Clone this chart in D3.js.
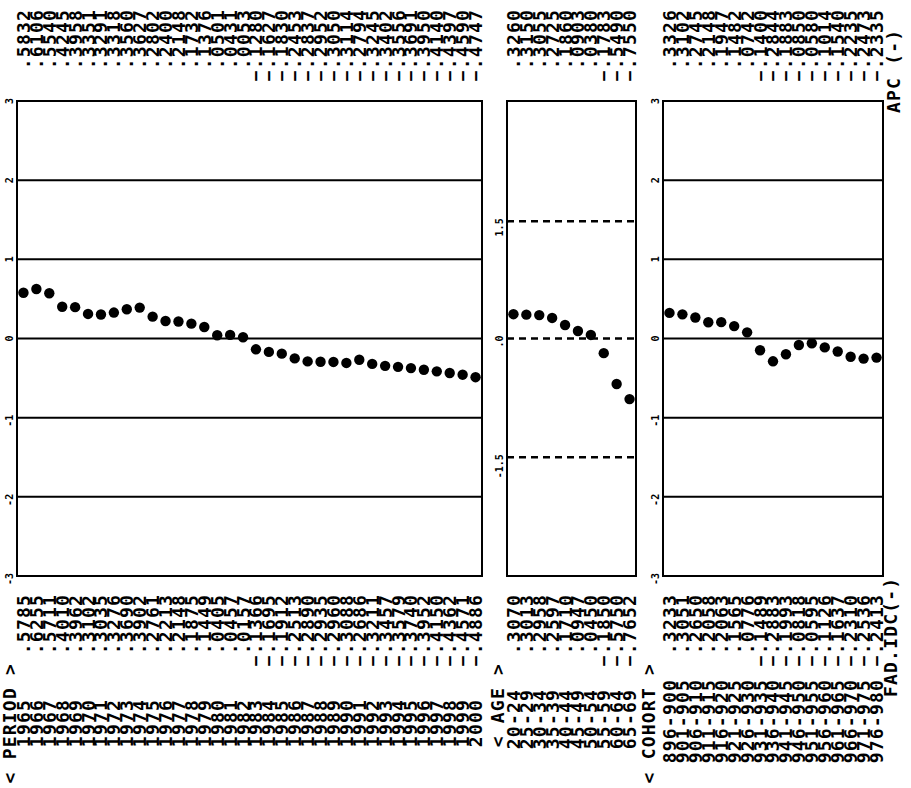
<!DOCTYPE html>
<html>
<head>
<meta charset="utf-8">
<script src="https://cdn.jsdelivr.net/npm/d3@7/dist/d3.min.js"></script>
<style>
    body { margin: 0; background: #fff; }
    text { font-family: "DejaVu Sans Mono", "Liberation Mono", monospace; font-weight: bold; fill: #000; }
</style>
</head>
<body>
<div id="chart"></div>
<script>
// period effects (1965-2000)
const periodYears = ["1965","1966","1967","1968","1969","1970","1971","1972","1973","1974","1975","1976",
    "1977","1978","1979","1980","1981","1982","1983","1984","1985","1986","1987","1988",
    "1989","1990","1991","1992","1993","1994","1995","1996","1997","1998","1999","2000"];
const periodEst = [.5785, .6255, .5711, .4010, .3962, .3102, .3035, .3276, .3690, .3902, .2761, .2213,
    .2148, .1875, .1449, .0405, .0457, .0157, -.1366, -.1695, -.1912, -.2513, -.2890, -.2935,
    -.2960, -.3088, -.2686, -.3211, -.3457, -.3579, -.3740, -.3952, -.4150, -.4362, -.4571, -.4886];
const periodTop = [.5832, .6106, .5540, .4245, .3958, .3351, .3291, .3318, .3560, .3627, .2802, .2400,
    .2148, .1732, .1376, .0501, .0431, .0053, -.1280, -.1627, -.1830, -.2453, -.2837, -.2952,
    -.3050, -.3114, -.2794, -.3245, -.3402, -.3556, -.3691, -.3950, -.4140, -.4397, -.4590, -.4747];

// age effects
const ageGroups = ["20-24","25-29","30-34","35-39","40-44","45-49","50-54","55-59","60-64","65-69"];
const ageEst = [.3070, .3013, .2958, .2597, .1710, .0947, .0450, -.1850, -.5750, -.7652];
const ageTop = [.3260, .3150, .3055, .2725, .1860, .0903, .0380, -.1783, -.5490, -.7550];
const ageRefLines = [1.48, 0, -1.5];
const ageRefLabels = ["1.5", ".0", "-1.5"];

// cohort effects
const cohorts = ["896-900","901-905","906-910","911-915","916-920","921-925","926-930","931-935","936-940",
    "941-945","946-950","951-955","956-960","961-965","966-970","971-975","976-980"];
const cohortEst = [.3233, .3051, .2650, .2058, .2063, .1565, .0776, -.1489, -.2883, -.1993, -.0818, -.0595,
    -.1126, -.1637, -.2310, -.2536, -.2413];
const cohortTop = [.3326, .3102, .2745, .2148, .1947, .1482, .0742, -.1400, -.2844, -.1883, -.0850, -.0580,
    -.1014, -.1540, -.2235, -.2473, -.2335];

const yTicks = [3, 2, 1, 0, -1, -2, -3];
const gridValues = [2, 1, 0, -1, -2];

const W = 911, H = 788;

const svg = d3.select("#chart").append("svg")
    .attr("width", W)
    .attr("height", H);

svg.append("rect").attr("width", W).attr("height", H).attr("fill", "#fff");

// shared value scale (rotated page: +3 at the top)
const y = d3.scaleLinear().domain([-3, 3]).range([576, 101]);

const fmt = v => d3.format(".4f")(v).replace("0.", ".");

// vertical (rotated) text, reading bottom to top
function vtext(x, yy, str, anchor, size) {
    return svg.append("text")
        .attr("transform", `translate(${x},${yy}) rotate(-90)`)
        .attr("text-anchor", anchor)
        .attr("dy", "0.36em")
        .style("font-size", size + "px")
        .attr("letter-spacing", size > 12 ? 1.2 : 0)
        .text(str);
}

class ApcPanel {
    constructor(cfg) {
        this.cfg = cfg;
        this.initVis();
    }

    initVis() {
        let vis = this;
        let c = vis.cfg;

        vis.x = d3.scaleBand().domain(c.cats).range(c.range);
        vis.cx = d => vis.x(d) + vis.x.bandwidth() / 2;

        let g = svg.append("g");

        // solid gridlines
        if (c.grid) {
            g.selectAll(".grid").data(gridValues).enter().append("line")
                .attr("x1", c.range[0]).attr("x2", c.range[1])
                .attr("y1", d => y(d)).attr("y2", d => y(d))
                .attr("stroke", "#000").attr("stroke-width", 2);
        }

        // dashed reference lines
        if (c.refs) {
            g.selectAll(".ref").data(c.refs).enter().append("line")
                .attr("x1", c.range[0]).attr("x2", c.range[1])
                .attr("y1", d => y(d)).attr("y2", d => y(d))
                .attr("stroke", "#000").attr("stroke-width", 2.5)
                .attr("stroke-dasharray", "7,5");
        }

        g.append("rect")
            .attr("x", c.range[0]).attr("y", y(3))
            .attr("width", c.range[1] - c.range[0]).attr("height", y(-3) - y(3))
            .attr("fill", "none").attr("stroke", "#000").attr("stroke-width", 2);

        g.selectAll(".dot").data(c.est).enter().append("circle")
            .attr("cx", (d, i) => vis.cx(c.cats[i]))
            .attr("cy", d => y(d))
            .attr("r", 5.2)
            .attr("fill", "#000");

        // tick labels on the left edge
        c.tickVals.forEach((t, i) => {
            vtext(c.range[0] - 8, y(t) - 3, c.tickText[i], "end", 10);
        });

        // numbers above and below, categories, title
        c.cats.forEach((d, i) => {
            vtext(vis.cx(d), 9, fmt(c.top[i]), "end", 18);
            vtext(vis.cx(d), 594, fmt(c.est[i]), "end", 18);
            vtext(vis.cx(d), c.catY, d, "end", 18);
        });

        vtext(c.titleX, 663, c.title, "end", 18);
    }
}

new ApcPanel({
    cats: periodYears, est: periodEst, top: periodTop,
    range: [17, 482], grid: true,
    tickVals: yTicks, tickText: yTicks.map(String),
    catY: 699, title: "< PERIOD >", titleX: 10
});

new ApcPanel({
    cats: ageGroups, est: ageEst, top: ageTop,
    range: [507, 636], grid: false, refs: ageRefLines,
    tickVals: ageRefLines, tickText: ageRefLabels,
    catY: 689, title: "<  AGE  >", titleX: 498
});

new ApcPanel({
    cats: cohorts, est: cohortEst, top: cohortTop,
    range: [663, 883], grid: true,
    tickVals: yTicks, tickText: yTicks.map(String),
    catY: 679, title: "< COHORT >", titleX: 649
});

vtext(894, 113, "APC  (-)", "start", 18);
vtext(891, 697, "FAD.IDC(-)", "start", 18);
</script>
</body>
</html>
